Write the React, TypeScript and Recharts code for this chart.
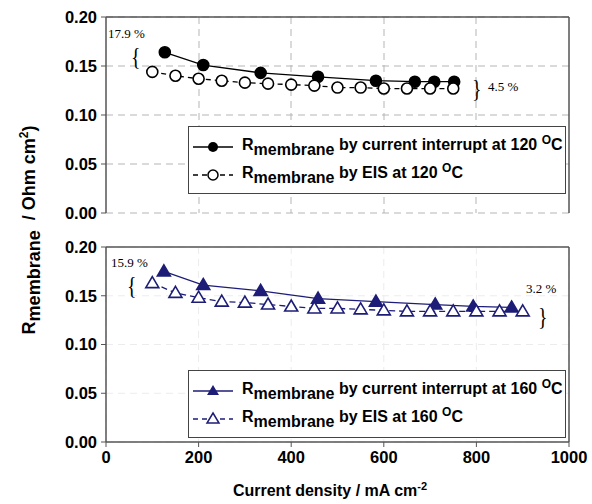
import React from 'react';
import { LineChart, Line, XAxis, YAxis, CartesianGrid, ReferenceLine } from 'recharts';

// 120 C panel
const ci120X = [127, 210, 334, 458, 583, 667, 709, 752];
const ci120Y = [0.164, 0.151, 0.143, 0.139, 0.135, 0.134, 0.134, 0.134];
const eis120X = [100, 150, 200, 250, 300, 350, 400, 450, 500, 550, 600, 650, 700, 750];
const eis120Y = [0.144, 0.140, 0.137, 0.135, 0.133, 0.132, 0.131, 0.130, 0.128, 0.128, 0.127, 0.127, 0.127, 0.127];

// 160 C panel
const ci160X = [125, 210, 334, 458, 583, 711, 793, 876];
const ci160Y = [0.175, 0.161, 0.155, 0.147, 0.144, 0.141, 0.139, 0.138];
const eis160X = [100, 150, 200, 250, 300, 350, 400, 450, 500, 550, 600, 650, 700, 750, 800, 850, 900];
const eis160Y = [0.163, 0.153, 0.148, 0.144, 0.143, 0.141, 0.139, 0.137, 0.137, 0.136, 0.135, 0.134, 0.134, 0.134, 0.134, 0.134, 0.134];

const xTicks = [0, 200, 400, 600, 800, 1000];
const yTicks = [0, 0.05, 0.1, 0.15, 0.2];

const NAVY = '#1d1d78';
const FONT = '"Liberation Sans", Arial, sans-serif';
const SERIF = '"Liberation Serif", "Times New Roman", serif';

const toRows = (xs: number[], ys: number[]) => xs.map((x, i) => ({ x, y: ys[i] }));

const tickStyle = { fontFamily: FONT, fontSize: 16.5, fontWeight: 700, fill: '#000' };

const circleDot = (fill: string) => (p: any) => (
    <circle key={`c-${p.index}`} cx={p.cx} cy={p.cy} r={5.5} fill={fill} stroke="#000" strokeWidth={1.6} />
);

const triDot = (fill: string) => (p: any) => (
    <polygon
        key={`t-${p.index}`}
        points={`${p.cx},${p.cy - 6.5} ${p.cx + 6.5},${p.cy + 4.5} ${p.cx - 6.5},${p.cy + 4.5}`}
        fill={fill}
        stroke={NAVY}
        strokeWidth={1.6}
    />
);

const R = () => (
    <>R<span style={{ position: 'relative', top: 4 }}>membrane</span></>
);

const LegendBox: React.FC<{ top: number; rows: { label: string; color: string; dashed: boolean; marker: React.ReactNode }[] }> = ({ top, rows }) => (
    <div style={{
        position: 'absolute', left: 188, top, width: 378, height: 68, boxSizing: 'border-box',
        border: '1.5px solid #444', background: '#fff', fontFamily: FONT, fontWeight: 700, fontSize: 16,
    }}>
        {rows.map((r, i) => (
            <div key={i} style={{ position: 'absolute', left: 0, top: 8 + i * 28, height: 24, display: 'flex', alignItems: 'center', whiteSpace: 'nowrap' }}>
                <svg width={46} height={20} style={{ marginLeft: 2 }}>
                    <line x1={2} y1={10} x2={42} y2={10} stroke={r.color} strokeWidth={1.3} strokeDasharray={r.dashed ? '5 4' : undefined} />
                    {r.marker}
                </svg>
                <span style={{ marginLeft: 5, position: 'relative', top: -3 }}><R /> {r.label} <sup style={{ fontSize: 12 }}>O</sup>C</span>
            </div>
        ))}
    </div>
);

const Note: React.FC<{ left: number; top: number; children: React.ReactNode }> = ({ left, top, children }) => (
    <div style={{ position: 'absolute', left, top, fontFamily: SERIF, fontSize: 13, lineHeight: 1, color: '#000', whiteSpace: 'nowrap' }}>{children}</div>
);

const Brace: React.FC<{ left: number; top: number; ch: string }> = ({ left, top, ch }) => (
    <div style={{ position: 'absolute', left, top, fontFamily: SERIF, fontSize: 20, lineHeight: 1, color: '#000', transform: 'scaleY(1.3)', transformOrigin: 'top' }}>{ch}</div>
);

export default function App() {
    return (
        <div style={{ position: 'absolute', left: 0, top: 0, width: 592, height: 504, background: '#fff' }}>
            {/* top panel: 120 C */}
            <div style={{ position: 'absolute', left: 0, top: 0 }}>
                <LineChart width={592} height={230} margin={{ top: 17, right: 23, left: 0, bottom: 17 }}>
                    <CartesianGrid stroke="#b5b5b5" strokeDasharray="7 5" verticalPoints={[199, 291, 384, 476]} />
                    <XAxis type="number" dataKey="x" domain={[0, 1000]} ticks={xTicks} hide allowDuplicatedCategory={false} />
                    <YAxis
                        type="number" domain={[0, 0.2]} ticks={yTicks} width={106}
                        tickFormatter={(v: number) => v.toFixed(2)} tick={tickStyle}
                        axisLine={{ stroke: '#555', strokeWidth: 1.5 }} tickLine={{ stroke: '#555' }} tickSize={5} tickMargin={4}
                    />
                    <ReferenceLine y={0.2} stroke="#555" strokeWidth={1.5} />
                    <ReferenceLine x={1000} stroke="#555" strokeWidth={1.5} />
                    <Line data={toRows(ci120X, ci120Y)} dataKey="y" stroke="#000" strokeWidth={1.3} dot={circleDot('#000')} isAnimationActive={false} />
                    <Line data={toRows(eis120X, eis120Y)} dataKey="y" stroke="#000" strokeWidth={1.3} strokeDasharray="5 4" dot={circleDot('#fff')} isAnimationActive={false} />
                </LineChart>
            </div>

            {/* bottom panel: 160 C */}
            <div style={{ position: 'absolute', left: 0, top: 230 }}>
                <LineChart width={592} height={274} margin={{ top: 17, right: 23, left: 0, bottom: 32 }}>
                    <CartesianGrid stroke="#ececec" strokeDasharray="7 5" />
                    <XAxis
                        type="number" dataKey="x" domain={[0, 1000]} ticks={xTicks} height={30} tick={tickStyle}
                        axisLine={{ stroke: '#555', strokeWidth: 1.5 }} tickLine={{ stroke: '#555' }} tickSize={5} tickMargin={4}
                        allowDuplicatedCategory={false}
                    />
                    <YAxis
                        type="number" domain={[0, 0.2]} ticks={yTicks} width={106}
                        tickFormatter={(v: number) => v.toFixed(2)} tick={tickStyle}
                        axisLine={{ stroke: '#555', strokeWidth: 1.5 }} tickLine={{ stroke: '#555' }} tickSize={5} tickMargin={4}
                    />
                    <ReferenceLine y={0.2} stroke="#555" strokeWidth={1.5} />
                    <ReferenceLine x={1000} stroke="#555" strokeWidth={1.5} />
                    <Line data={toRows(ci160X, ci160Y)} dataKey="y" stroke={NAVY} strokeWidth={1.3} dot={triDot(NAVY)} isAnimationActive={false} />
                    <Line data={toRows(eis160X, eis160Y)} dataKey="y" stroke={NAVY} strokeWidth={1.3} strokeDasharray="6 4" dot={triDot('#fff')} isAnimationActive={false} />
                </LineChart>
            </div>

            <LegendBox top={126} rows={[
                { label: 'by current interrupt at 120', color: '#000', dashed: false, marker: <circle cx={22} cy={10} r={5} fill="#000" /> },
                { label: 'by EIS at 120', color: '#000', dashed: true, marker: <circle cx={22} cy={10} r={5} fill="#fff" stroke="#000" strokeWidth={1.5} /> },
            ]} />
            <LegendBox top={370} rows={[
                { label: 'by current interrupt at 160', color: NAVY, dashed: false, marker: <polygon points="22,4 28,14 16,14" fill={NAVY} /> },
                { label: 'by EIS at 160', color: NAVY, dashed: true, marker: <polygon points="22,4 28,14 16,14" fill="#fff" stroke={NAVY} strokeWidth={1.5} /> },
            ]} />

            {/* percentage notes */}
            <Note left={108} top={27}>17.9 %</Note>
            <Brace left={131} top={43} ch="{" />
            <Brace left={472} top={75} ch="}" />
            <Note left={488} top={80}>4.5 %</Note>
            <Note left={111} top={256}>15.9 %</Note>
            <Brace left={127} top={272} ch="{" />
            <Note left={526} top={282}>3.2 %</Note>
            <Brace left={538} top={303} ch="}" />

            {/* axis titles */}
            <div style={{ position: 'absolute', left: 330, top: 480, transform: 'translateX(-50%)', fontFamily: FONT, fontWeight: 700, fontSize: 16, whiteSpace: 'nowrap' }}>
                Current density / mA cm<sup style={{ fontSize: 11 }}>-2</sup>
            </div>
            <div style={{
                position: 'absolute', left: 28, top: 230, transform: 'translate(-50%, -50%) rotate(-90deg)',
                fontFamily: FONT, fontWeight: 700, fontSize: 18, whiteSpace: 'nowrap',
            }}>
                R<span style={{ position: 'relative', top: 5 }}>membrane</span>&nbsp;&nbsp;/ Ohm cm<sup style={{ fontSize: 12 }}>2</sup>)
            </div>
        </div>
    );
}
